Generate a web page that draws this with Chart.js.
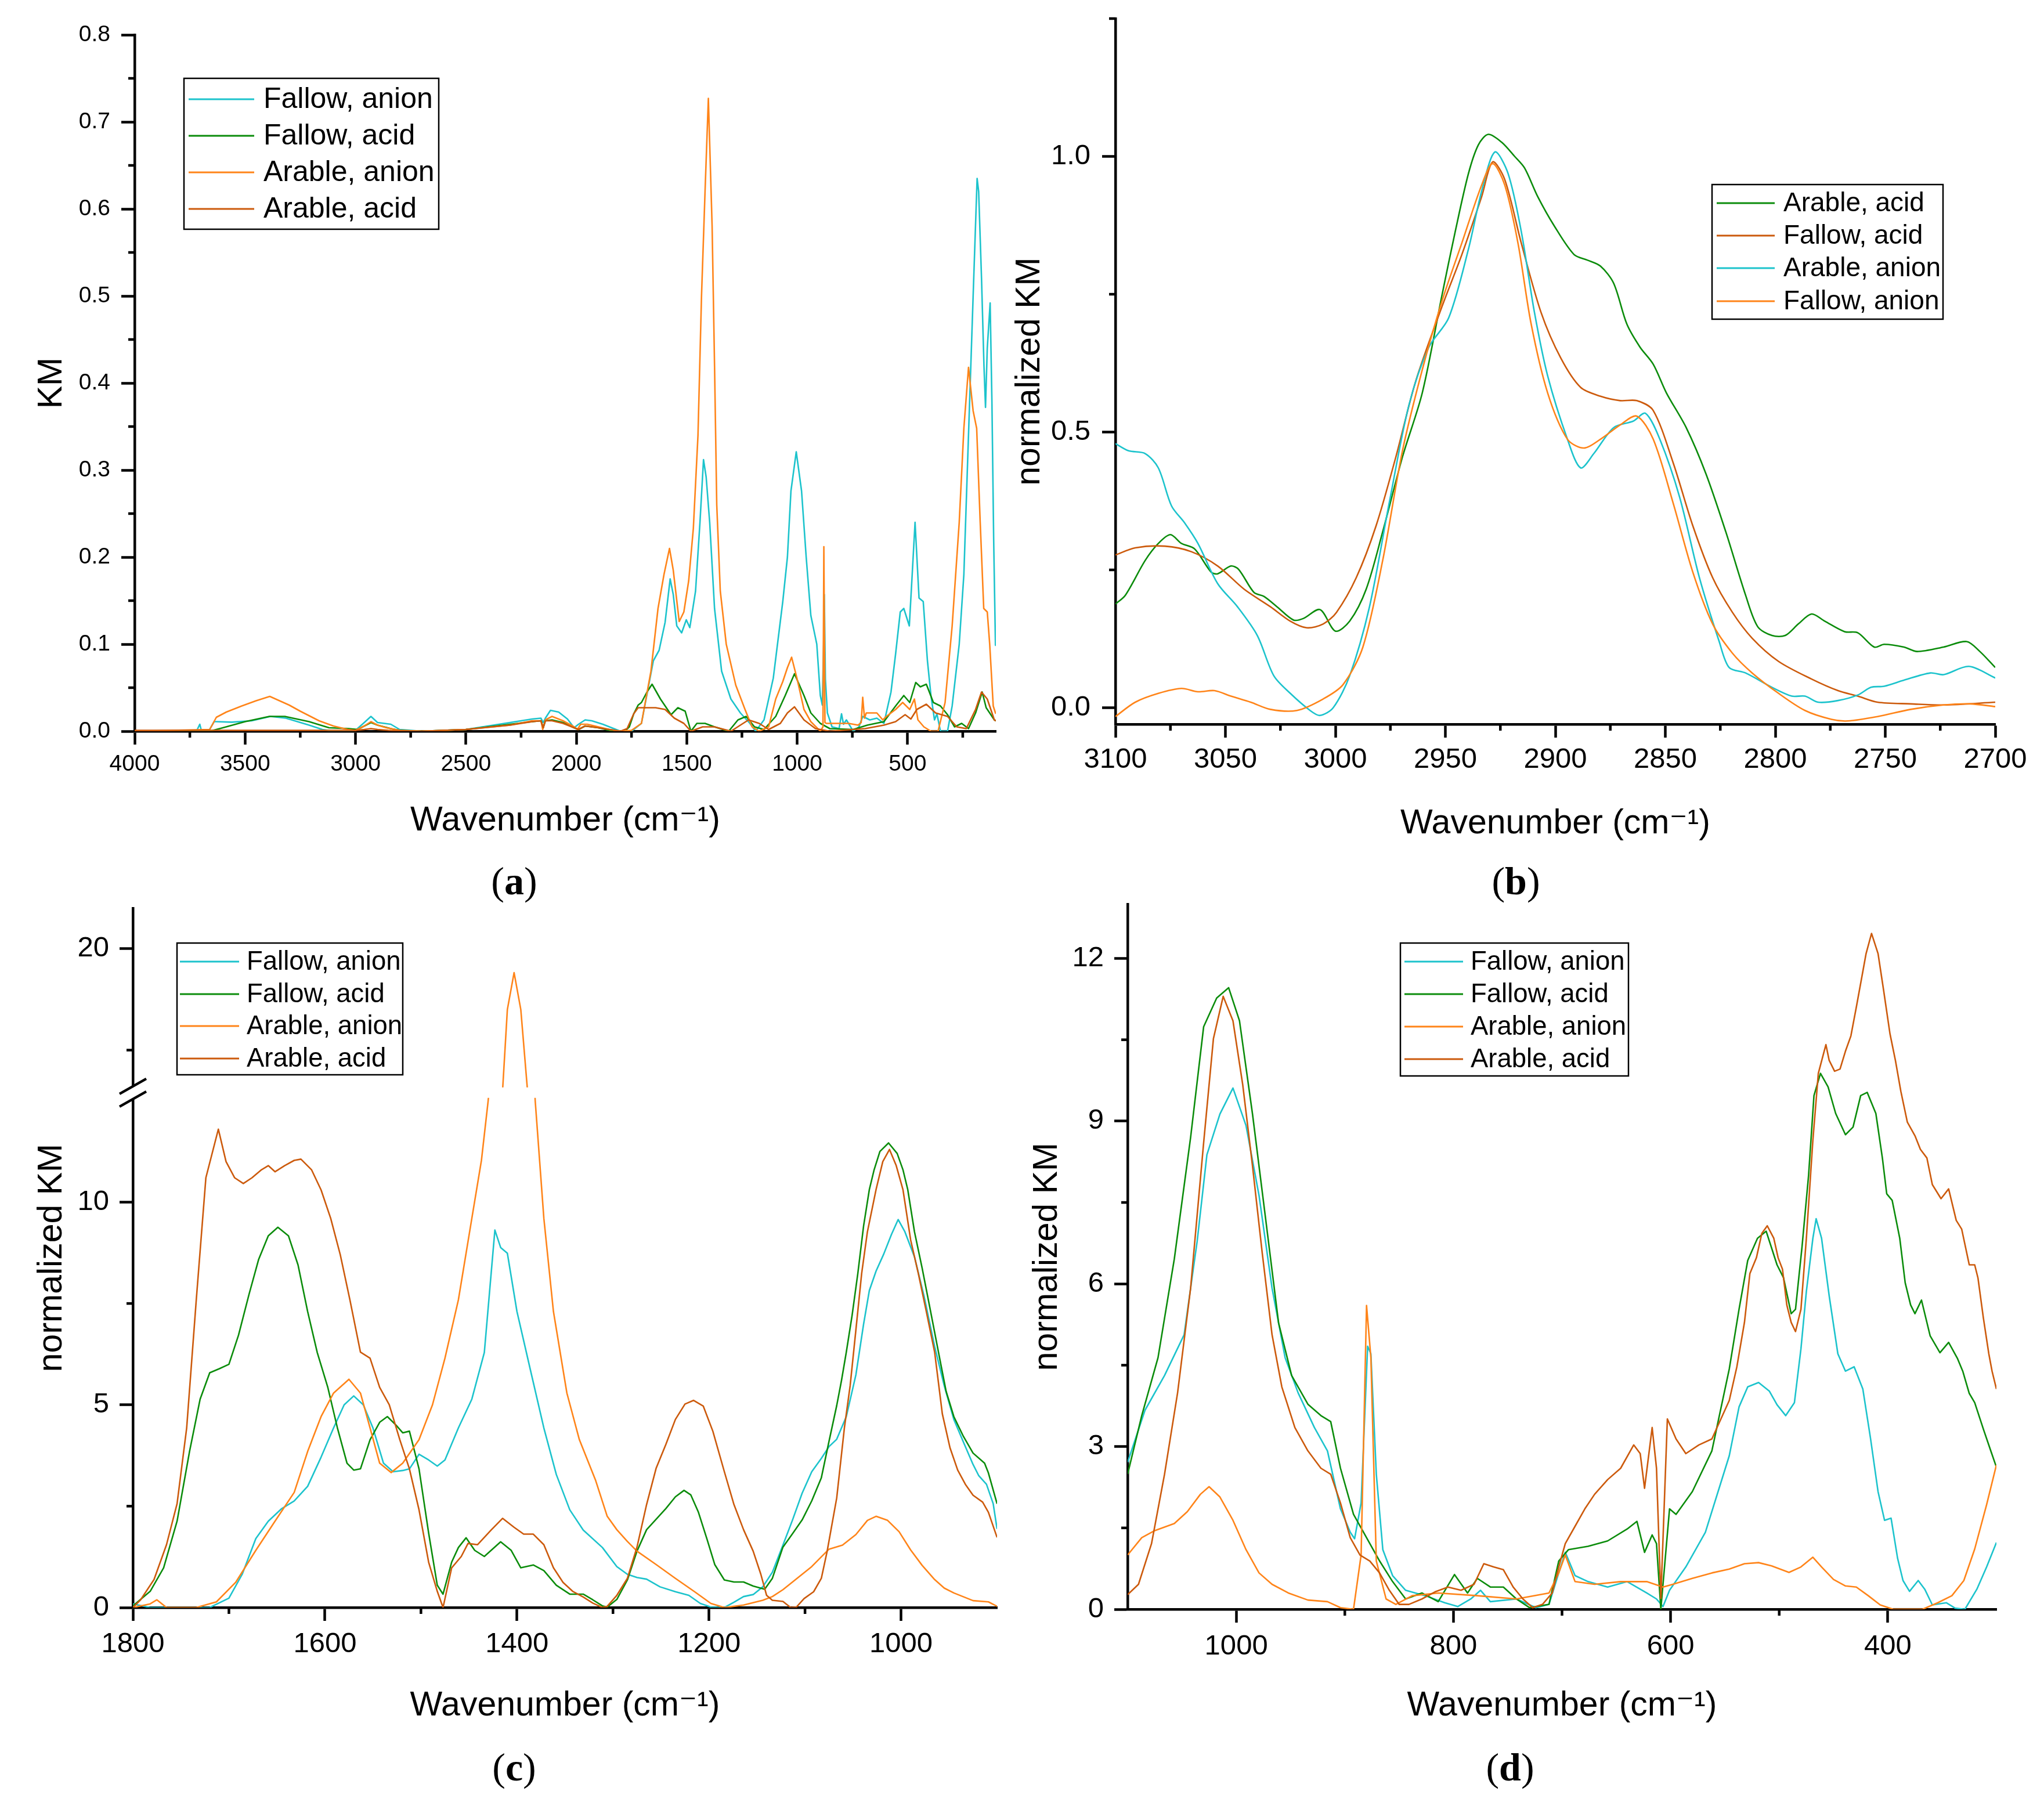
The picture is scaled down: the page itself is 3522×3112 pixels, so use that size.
<!DOCTYPE html>
<html><head><meta charset="utf-8"><title>KM spectra</title>
<script src="https://cdn.jsdelivr.net/npm/chart.js@4.4.1/dist/chart.umd.min.js"></script>
<style>
html,body{margin:0;padding:0;background:#fff;}
body{width:3522px;height:3112px;position:relative;overflow:hidden;}
canvas{position:absolute;}
.cap{position:absolute;width:200px;margin-left:-100px;text-align:center;font-family:"Liberation Serif","DejaVu Serif",serif;font-size:68px;line-height:68px;color:#000;}
</style></head><body>
<canvas id="ca"></canvas>
<canvas id="cb"></canvas>
<canvas id="cc"></canvas>
<canvas id="cd"></canvas>
<div class="cap" style="left:886px;top:1484px">(<b>a</b>)</div>
<div class="cap" style="left:2612px;top:1484px">(<b>b</b>)</div>
<div class="cap" style="left:886px;top:3011px">(<b>c</b>)</div>
<div class="cap" style="left:2602px;top:3011px">(<b>d</b>)</div>
<script>
// ---------------- DATA ----------------
// Panel (a): KM vs wavenumber
const aFallowAnionX = [4000,3720,3705,3698,3665,3640,3630,3560,3470,3385,3315,3210,3150,3100,3000,2960,2930,2900,2870,2840,2800,2700,2500,2400,2300,2200,2160,2150,2140,2117,2080,2040,2010,1990,1960,1930,1880,1830,1800,1750,1705,1651,1625,1598,1575,1561,1545,1523,1502,1486,1460,1440,1424,1412,1396,1374,1342,1300,1257,1214,1188,1150,1108,1065,1044,1028,1004,980,959,938,911,895,886,880,877,872,863,842,810,799,790,777,746,720,703,671,639,607,575,554,533,517,492,479,466,448,429,410,394,378,367,351,319,298,266,245,224,203,185,178,165,154,147,139,126,118,110,102,100];
const aFallowAnionY = [0,0,0.008,0.001,0,0.011,0.011,0.0104,0.012,0.017,0.015,0.007,0.002,0,0.001,0.01,0.017,0.01,0.009,0.008,0.002,0,0.002,0.006,0.01,0.014,0.015,0.01,0.015,0.024,0.022,0.014,0.004,0.008,0.013,0.012,0.008,0.003,0,0,0.009,0.081,0.093,0.125,0.175,0.157,0.121,0.113,0.128,0.119,0.161,0.24,0.312,0.292,0.24,0.141,0.069,0.037,0.021,0.009,0,0.013,0.061,0.149,0.2,0.276,0.321,0.276,0.2,0.133,0.1,0.041,0.03,0.1,0.157,0.06,0.021,0.005,0.003,0.02,0.008,0.013,0,0.005,0.017,0.013,0.015,0.009,0.045,0.089,0.137,0.141,0.121,0.18,0.24,0.153,0.149,0.081,0.041,0.013,0.02,0,0,0.029,0.1,0.18,0.34,0.5,0.635,0.62,0.52,0.42,0.372,0.44,0.492,0.38,0.22,0.099,0.098];
const aFallowAcidX = [4000,3660,3600,3500,3390,3320,3210,3120,3030,2990,2960,2930,2900,2870,2840,2800,2700,2500,2300,2200,2160,2150,2140,2110,2060,2010,1990,1960,1900,1850,1780,1760,1740,1720,1705,1680,1657,1619,1571,1540,1507,1481,1454,1417,1374,1310,1268,1231,1193,1150,1097,1054,1012,969,938,895,852,746,682,607,554,517,490,463,442,415,383,351,319,287,255,224,192,162,144,107,100];
const aFallowAcidY = [0,0,0.004,0.011,0.017,0.017,0.011,0.004,0.003,0.002,0.006,0.01,0.007,0.005,0.003,0.001,0,0.002,0.008,0.011,0.012,0.004,0.012,0.013,0.01,0.004,0.002,0.006,0.004,0.001,0,0.005,0.02,0.03,0.033,0.045,0.054,0.037,0.019,0.027,0.023,0,0.009,0.009,0.005,0,0.013,0.017,0.005,0.002,0.017,0.041,0.066,0.041,0.021,0.009,0.003,0.002,0.007,0.011,0.029,0.041,0.033,0.056,0.051,0.054,0.033,0.029,0.019,0.005,0.009,0.003,0.021,0.045,0.027,0.013,0.012];
const aArableAnionX = [4000,3660,3630,3585,3515,3450,3388,3300,3250,3165,3100,3035,3000,2960,2930,2900,2860,2800,2700,2500,2300,2200,2160,2152,2140,2110,2060,2010,1995,1980,1950,1900,1850,1800,1750,1705,1662,1630,1603,1578,1561,1534,1513,1491,1470,1449,1433,1417,1402,1385,1374,1364,1348,1321,1278,1236,1204,1172,1129,1097,1065,1044,1025,1001,969,938,895,883,879,874,868,831,767,724,710,703,695,687,639,612,596,554,522,490,469,453,426,394,362,330,298,266,245,224,203,187,171,155,139,128,112,102,100];
const aArableAnionY = [0,0.002,0.016,0.022,0.029,0.035,0.04,0.03,0.023,0.012,0.006,0.002,0.001,0.006,0.011,0.007,0.004,0.001,0,0.002,0.007,0.012,0.012,0.002,0.013,0.017,0.012,0.005,0.002,0.008,0.008,0.005,0.002,0,0.001,0.009,0.069,0.141,0.18,0.21,0.185,0.126,0.137,0.173,0.233,0.34,0.5,0.62,0.727,0.58,0.42,0.26,0.161,0.1,0.053,0.025,0.005,0,0.005,0.037,0.057,0.073,0.085,0.061,0.025,0.011,0,0.005,0.212,0.01,0.009,0.009,0.009,0.007,0.01,0.039,0.015,0.021,0.021,0.013,0.017,0.025,0.033,0.025,0.037,0.013,0.005,0,0,0.033,0.121,0.24,0.348,0.418,0.368,0.348,0.24,0.141,0.137,0.1,0.029,0.021,0.02];
const aArableAcidX = [4000,3000,2960,2930,2900,2850,2700,2500,2300,2200,2160,2150,2140,2110,2060,2010,1990,1960,1900,1800,1770,1740,1720,1705,1641,1598,1556,1513,1481,1428,1374,1300,1257,1220,1172,1129,1076,1044,1012,969,917,852,692,607,554,511,485,458,415,373,319,277,234,192,165,139,107,100];
const aArableAcidY = [0.001,0.001,0.002,0.003,0.002,0.001,0,0.002,0.007,0.011,0.012,0.004,0.012,0.012,0.009,0.004,0.002,0.006,0.004,0,0.003,0.02,0.027,0.027,0.027,0.025,0.015,0.009,0,0.005,0.005,0,0.007,0.013,0.009,0.002,0.009,0.021,0.028,0.013,0.003,0,0.003,0.007,0.011,0.019,0.014,0.025,0.031,0.021,0.017,0.005,0.003,0.025,0.045,0.037,0.013,0.012];
const aXTicks = [500,1000,1500,2000,2500,3000,3500,4000];
const aXMinor = [250,750,1250,1750,2250,2750,3250,3750];
const aYTicks = [0,0.1,0.2,0.3,0.4,0.5,0.6,0.7,0.8];
const aYMinor = [0.05,0.15,0.25,0.35,0.45,0.55,0.65,0.75];

// Panel (b): normalized KM, C-H stretching region
const bArableAcidX = [3100,3095.5,3086.5,3080.5,3075,3070,3064,3056.5,3053.5,3047.5,3044,3037,3032.5,3026.5,3019,3014.5,3007,3000,2993.5,2986,2978.5,2969.5,2960.5,2951.5,2945.5,2939.5,2935,2930.5,2924.5,2918.5,2914,2908,2900.5,2891.5,2885.5,2879.5,2873.5,2867.5,2861.5,2855.5,2849.5,2840.5,2831.5,2822.5,2813.5,2808,2801.5,2795.5,2789.5,2783.5,2777.5,2768.5,2762.5,2755,2750.5,2741.5,2735.5,2723.5,2713,2707,2700];
const bArableAcidY = [0.188,0.204,0.267,0.298,0.314,0.298,0.288,0.246,0.243,0.257,0.251,0.209,0.202,0.183,0.159,0.162,0.178,0.139,0.157,0.215,0.319,0.455,0.571,0.749,0.864,0.969,1.021,1.040,1.026,1.0,0.979,0.927,0.874,0.822,0.812,0.801,0.770,0.696,0.654,0.623,0.571,0.508,0.424,0.319,0.204,0.147,0.131,0.131,0.152,0.170,0.157,0.138,0.136,0.110,0.115,0.110,0.102,0.110,0.120,0.102,0.073];
const bFallowAcidX = [3100,3091,3077.5,3065.5,3053.5,3041.5,3029.5,3020.5,3013,3005.5,2999.5,2990.5,2981.5,2972.5,2963.5,2951.5,2942.5,2933.5,2928.5,2923,2915.5,2906.5,2897.5,2888.5,2879.5,2870.5,2863,2855.5,2846.5,2837.5,2828.5,2819.5,2810.5,2798.5,2783.5,2771.5,2762.5,2753.5,2738.5,2723.5,2700];
const bFallowAcidY = [0.277,0.290,0.293,0.283,0.257,0.215,0.183,0.157,0.145,0.152,0.173,0.236,0.330,0.455,0.592,0.728,0.822,0.927,0.990,0.958,0.843,0.717,0.634,0.581,0.565,0.557,0.557,0.539,0.445,0.330,0.236,0.173,0.126,0.084,0.052,0.031,0.021,0.010,0.007,0.005,0.010];
const bArableAnionX = [3100,3094,3086.5,3080.5,3074.5,3068.5,3062.5,3053.5,3044.5,3035.5,3028,3020.5,3011.5,3007,3001,2993.5,2984.5,2975.5,2966.5,2957.5,2948.5,2939.5,2933.5,2927.5,2921.5,2915.5,2909.5,2903.5,2894.5,2888.5,2882.5,2873.5,2864.5,2859,2852.5,2843.5,2834.5,2825.5,2821,2813.5,2801.5,2792.5,2786.5,2780.5,2771.5,2762.5,2756.5,2750.5,2741.5,2729.5,2723.5,2712,2700];
const bArableAnionY = [0.479,0.466,0.461,0.435,0.366,0.335,0.298,0.225,0.183,0.131,0.058,0.026,-0.005,-0.014,0,0.058,0.183,0.372,0.550,0.654,0.707,0.832,0.937,1.008,0.969,0.864,0.717,0.602,0.487,0.435,0.461,0.508,0.520,0.534,0.487,0.382,0.236,0.120,0.073,0.063,0.037,0.021,0.021,0.010,0.013,0.023,0.037,0.039,0.050,0.063,0.060,0.075,0.054];
const bFallowAnionX = [3100,3091,3080.5,3070,3062.5,3055,3047.5,3038.5,3029.5,3017.5,3005.5,2996.5,2987.5,2978.5,2969.5,2960.5,2951.5,2942.5,2933.5,2928.5,2923,2917,2911,2903.5,2894.5,2887,2879.5,2870.5,2863,2855.5,2846.5,2837.5,2828.5,2819.5,2810.5,2798.5,2786.5,2774.5,2767,2753.5,2738.5,2723.5,2711.5,2700];
const bFallowAnionY = [-0.016,0.010,0.026,0.035,0.029,0.031,0.021,0.010,-0.003,-0.005,0.016,0.042,0.110,0.267,0.466,0.613,0.738,0.843,0.948,0.987,0.948,0.843,0.696,0.571,0.487,0.471,0.487,0.513,0.529,0.487,0.372,0.246,0.152,0.099,0.063,0.026,-0.005,-0.021,-0.024,-0.016,-0.003,0.005,0.007,0.002];
const bXTicks = [2700,2750,2800,2850,2900,2950,3000,3050,3100];
const bXMinor = [2725,2775,2825,2875,2925,2975,3025,3075];
const bYTicks = [0,0.5,1.0];
const bYMinor = [0.25,0.75,1.25];

// Panel (c): normalized KM, 1800-900 cm-1 (broken y axis)
const cFallowAnionX = [1800,1782,1720,1700,1686,1672,1659,1645,1632,1618,1604,1591,1580,1570,1560,1550,1539,1529,1519,1512,1502,1492,1483,1475,1461,1447,1434,1423,1417,1410,1400,1386,1372,1359,1345,1331,1311,1296,1285,1275,1265,1251,1235,1221,1209,1198,1184,1174,1164,1154,1144,1134,1123,1113,1103,1093,1083,1075,1067,1057,1047,1039,1033,1026,1018,1010,1003,996,986,976,965,955,945,935,925,919,911,904,900];
const cFallowAnionY = [0.09,0,0,0.23,0.83,1.7,2.13,2.44,2.63,2.99,3.71,4.43,5.0,5.22,5.0,4.43,3.56,3.35,3.38,3.42,3.78,3.64,3.49,3.64,4.43,5.14,6.29,9.31,8.88,8.74,7.3,5.86,4.43,3.28,2.41,1.91,1.48,1.01,0.82,0.74,0.7,0.51,0.39,0.3,0.1,0.01,0,0.13,0.27,0.32,0.51,0.87,1.54,2.16,2.82,3.35,3.68,3.97,4.15,4.71,5.74,6.99,7.82,8.3,8.72,9.2,9.57,9.27,8.65,7.68,6.44,5.47,4.64,4.08,3.53,3.25,3.04,2.56,1.94];
const cFallowAcidX = [1800,1782,1768,1754,1741,1730,1720,1710,1700,1690,1679,1669,1659,1649,1638,1628,1618,1608,1597,1587,1577,1570,1563,1553,1543,1535,1526,1519,1512,1502,1492,1483,1477,1468,1461,1453,1444,1434,1417,1406,1396,1383,1372,1359,1345,1331,1321,1311,1306,1296,1285,1275,1265,1253,1245,1235,1226,1219,1211,1202,1194,1184,1174,1164,1154,1142,1134,1123,1113,1103,1093,1083,1075,1067,1062,1057,1051,1045,1039,1033,1028,1022,1013,1004,998,993,986,978,970,961,953,945,935,925,913,909,900];
const cFallowAcidY = [0.04,0.4,0.98,2.13,3.85,5.14,5.79,5.89,6.0,6.72,7.73,8.59,9.17,9.38,9.17,8.45,7.3,6.29,5.43,4.43,3.56,3.39,3.42,4.14,4.57,4.71,4.5,4.31,4.35,3.42,1.84,0.55,0.33,1.12,1.48,1.72,1.41,1.26,1.62,1.41,0.98,1.05,0.91,0.55,0.33,0.33,0.19,0.04,0.01,0.2,0.68,1.39,1.92,2.23,2.44,2.73,2.89,2.78,2.35,1.68,1.06,0.68,0.63,0.63,0.53,0.45,0.72,1.49,1.82,2.16,2.63,3.2,4.1,4.98,5.6,6.3,7.2,8.24,9.41,10.31,10.8,11.25,11.46,11.2,10.8,10.31,9.27,8.37,7.4,6.3,5.33,4.71,4.22,3.81,3.56,3.32,2.56];
const cArableAnionX = [1800,1782,1775,1765,1734,1713,1693,1672,1652,1632,1618,1604,1591,1575,1563,1553,1543,1531,1519,1502,1488,1475,1461,1447,1437,1430,1415,1410,1403,1396,1389,1381,1372,1362,1348,1335,1318,1306,1296,1285,1275,1255,1235,1215,1198,1184,1164,1144,1134,1123,1113,1103,1093,1083,1075,1061,1047,1035,1026,1014,1002,990,978,965,955,945,925,909,900];
const cArableAnionY = [0,0.09,0.19,0,0,0.14,0.62,1.41,2.13,2.84,3.85,4.71,5.29,5.63,5.29,4.43,3.56,3.33,3.56,4.14,5.0,6.15,7.59,9.6,11.03,12.5,16.5,18.5,19.41,18.5,16.5,12.5,9.6,7.3,5.29,4.14,3.13,2.25,1.92,1.63,1.39,1.06,0.72,0.39,0.1,0,0.06,0.18,0.27,0.44,0.63,0.82,1.01,1.25,1.44,1.54,1.8,2.15,2.25,2.15,1.87,1.42,1.04,0.69,0.48,0.36,0.17,0.14,0.03];
const cArableAcidX = [1800,1792,1778,1765,1754,1744,1734,1724,1711,1703,1694,1685,1676,1666,1659,1652,1642,1632,1625,1614,1604,1594,1584,1574,1563,1553,1543,1533,1522,1512,1502,1492,1483,1477,1468,1458,1451,1441,1427,1415,1403,1393,1383,1372,1362,1352,1342,1331,1321,1311,1306,1296,1285,1275,1265,1255,1245,1235,1225,1216,1206,1196,1184,1174,1164,1154,1146,1140,1134,1123,1115,1109,1101,1091,1083,1077,1067,1059,1053,1047,1041,1035,1026,1019,1012,1005,998,990,982,974,965,957,949,941,933,925,915,909,900];
const cArableAcidY = [0,0.19,0.69,1.55,2.56,4.43,7.59,10.6,11.8,11.0,10.6,10.46,10.6,10.8,10.9,10.75,10.9,11.03,11.06,10.8,10.3,9.6,8.7,7.59,6.3,6.15,5.43,5.0,4.14,3.42,2.41,1.12,0.4,0,0.98,1.26,1.58,1.55,1.91,2.2,1.98,1.81,1.81,1.55,0.98,0.62,0.4,0.26,0.11,0,0.03,0.3,0.72,1.49,2.54,3.44,4.02,4.64,5.02,5.11,4.97,4.35,3.35,2.54,1.92,1.39,0.82,0.3,0.18,0.15,0,0.01,0.22,0.39,0.72,1.38,2.7,4.43,5.47,6.85,8.24,9.27,10.31,11.0,11.3,10.9,10.31,9.07,8.24,7.34,6.3,4.78,3.94,3.39,3.04,2.77,2.6,2.35,1.73];
const cXTicks = [1000,1200,1400,1600,1800];
const cXMinor = [1100,1300,1500,1700];
const cYLowTicks = [0,5,10];
const cYLowMinor = [2.5,7.5];
const cYHighTicks = [20];
const cYHighMinor = [17.5];

// Panel (d): normalized KM, 1100-300 cm-1
const dFallowAnionX = [1100,1084,1066,1048,1036,1027,1015,1003,991,979,967,955,943,928,916,904,895,891,885,879,876,871,865,856,844,826,808,796,784,775,766,742,724,712,703,697,688,676,658,640,622,613,607,601,586,568,546,537,529,519,509,502,494,486,480,475,469,466,461,454,446,439,431,423,416,409,403,397,391,386,380,372,366,359,346,338,329,318,309,300];
const dFallowAnionY = [2.71,3.67,4.31,5.06,6.78,8.38,9.13,9.61,8.92,7.63,5.92,4.64,3.99,3.35,2.92,1.85,1.42,1.3,1.96,4.85,4.71,2.49,1.1,0.62,0.35,0.25,0.12,0.05,0.19,0.35,0.14,0.19,0.03,0.09,0.67,1.05,0.62,0.51,0.41,0.51,0.3,0.19,0.05,0.35,0.78,1.42,2.83,3.73,4.1,4.18,4.02,3.77,3.57,3.81,4.8,5.86,6.84,7.2,6.84,5.78,4.71,4.39,4.47,4.06,3.16,2.17,1.64,1.68,0.94,0.53,0.33,0.53,0.37,0.08,0.12,0.02,0,0.37,0.78,1.23];
const dFallowAcidX = [1100,1087,1072,1057,1042,1030,1018,1007,997,985,973,961,949,934,922,913,904,892,880,868,856,844,829,814,799,787,778,766,754,742,730,712,703,694,676,658,640,631,624,617,613,609,601,595,580,562,546,537,529,520,512,502,496,489,485,479,473,468,462,455,448,439,432,425,419,411,405,401,396,389,384,379,375,369,361,352,344,336,331,325,320,312,305,300];
const dFallowAcidY = [2.49,3.57,4.64,6.46,8.7,10.74,11.27,11.46,10.85,9.13,7.21,5.28,4.31,3.78,3.57,3.46,2.6,1.75,1.32,0.89,0.51,0.19,0.3,0.14,0.64,0.3,0.57,0.41,0.41,0.19,0.03,0.09,0.89,1.1,1.16,1.26,1.48,1.62,1.05,1.37,1.21,0,1.85,1.75,2.17,2.92,4.43,5.53,6.43,6.84,6.97,6.35,6.11,5.45,5.53,6.68,7.99,9.47,9.88,9.63,9.14,8.75,8.89,9.47,9.53,9.14,8.32,7.66,7.54,6.84,6.02,5.61,5.45,5.7,5.04,4.73,4.92,4.63,4.39,3.98,3.81,3.32,2.91,2.62];
const dArableAnionX = [1100,1087,1075,1057,1045,1033,1025,1015,1003,991,979,967,952,934,916,904,892,885,880,876,871,862,853,838,814,778,742,712,703,697,688,670,646,622,607,598,580,562,546,532,519,507,491,480,469,461,450,439,429,418,407,395,368,354,341,330,320,309,300];
const dArableAnionY = [1.0,1.32,1.45,1.58,1.8,2.12,2.26,2.07,1.64,1.1,0.67,0.46,0.3,0.17,0.14,0.03,0,1.0,5.6,4.64,0.89,0.19,0.09,0.25,0.3,0.25,0.19,0.3,0.67,1.0,0.51,0.46,0.51,0.51,0.41,0.46,0.57,0.67,0.74,0.84,0.86,0.8,0.68,0.78,0.96,0.78,0.55,0.43,0.41,0.25,0.08,0,0,0.12,0.25,0.53,1.11,1.93,2.66];
const dArableAcidX = [1100,1090,1078,1066,1054,1042,1030,1021,1012,1003,994,985,976,967,958,946,934,922,913,904,895,886,877,868,859,850,841,829,817,805,793,781,772,763,754,745,736,727,718,709,703,697,688,679,670,658,646,634,628,624,617,613,609,603,595,586,574,562,546,539,532,527,521,516,511,505,501,497,493,489,485,480,475,469,464,457,454,449,444,439,434,429,423,420,415,409,404,398,393,388,382,375,370,364,359,351,344,337,332,325,320,317,312,307,304,300];
const dArableAcidY = [0.27,0.46,1.21,2.49,3.99,5.92,8.6,10.52,11.3,10.85,9.67,8.17,6.56,5.06,4.1,3.35,2.92,2.6,2.49,1.96,1.32,1.0,0.89,0.67,0.35,0.09,0.09,0.19,0.32,0.41,0.35,0.46,0.84,0.78,0.73,0.41,0.19,0.03,0.09,0.3,0.78,1.21,1.53,1.85,2.12,2.39,2.6,3.03,2.87,2.23,3.35,2.6,0.2,3.51,3.14,2.87,3.03,3.14,3.85,4.47,5.29,6.19,6.48,6.93,7.07,6.84,6.48,6.27,5.61,5.29,5.12,5.53,6.84,8.65,9.88,10.41,10.12,9.92,9.96,10.29,10.57,11.1,11.76,12.09,12.46,12.09,11.43,10.61,10.12,9.55,8.98,8.73,8.48,8.32,7.83,7.57,7.75,7.17,7.01,6.35,6.35,6.11,5.37,4.71,4.39,4.06];
const dXTicks = [400,600,800,1000];
const dXMinor = [500,700,900];
const dYTicks = [0,3,6,9,12];
const dYMinor = [1.5,4.5,7.5,10.5];

// ---------------- STYLE ----------------
const FONT = "'Liberation Sans', Arial, 'DejaVu Sans', sans-serif";
const XTITLE = 'Wavenumber (cm\u207B\u00B9)';
const COL = {cyan:'#1CC3CC', green:'#0B8C0B', orange:'#FF8419', dark:'#CC5A0C'};

function series(label, xs, ys, color, axis, extra){
  const n = Math.min(xs.length, ys.length);
  const pts = [];
  for (let i = 0; i < n; i++) pts.push({x: xs[i], y: ys[i]});
  return Object.assign({label: label, data: pts, borderColor: color, backgroundColor: color,
    borderWidth: 2.6, pointRadius: 0, pointHoverRadius: 0, pointHitRadius: 0, fill: false, tension: 0,
    borderJoinStyle: 'round', yAxisID: axis || 'y'}, extra || {});
}

// ---------------- PLUGINS ----------------
const minorTicks = {
  id: 'minorTicks',
  afterDraw(chart, args, o){
    if (!o || !o.axes) return;
    const ctx = chart.ctx;
    ctx.save(); ctx.strokeStyle = '#000'; ctx.lineWidth = 4.5;
    for (const a of o.axes) {
      const s = chart.scales[a.id];
      if (!s) continue;
      for (const v of a.values) {
        const p = s.getPixelForValue(v);
        ctx.beginPath();
        if (s.isHorizontal()) { ctx.moveTo(p, s.top); ctx.lineTo(p, s.top + a.len); }
        else { ctx.moveTo(s.right, p); ctx.lineTo(s.right - a.len, p); }
        ctx.stroke();
      }
    }
    ctx.restore();
  }
};

const boxLegend = {
  id: 'boxLegend',
  afterDraw(chart, args, o){
    if (!o || !o.rows) return;
    const ctx = chart.ctx, ox = o.ox, oy = o.oy;
    ctx.save();
    ctx.fillStyle = '#fff';
    ctx.fillRect(o.x1 - ox, o.y1 - oy, o.x2 - o.x1, o.y2 - o.y1);
    ctx.strokeStyle = '#000'; ctx.lineWidth = 2.5;
    ctx.strokeRect(o.x1 - ox, o.y1 - oy, o.x2 - o.x1, o.y2 - o.y1);
    const items = chart.data.datasets.filter(d => !d.noLegend);
    ctx.font = o.size + 'px ' + FONT;
    ctx.textBaseline = 'middle'; ctx.textAlign = 'left';
    items.forEach((d, i) => {
      const y = o.rows[i] - oy;
      ctx.strokeStyle = d.borderColor; ctx.lineWidth = 2.8;
      ctx.beginPath(); ctx.moveTo(o.sx1 - ox, y); ctx.lineTo(o.sx2 - ox, y); ctx.stroke();
      ctx.fillStyle = '#000';
      ctx.fillText(d.label, o.tx - ox, y + 1);
    });
    ctx.restore();
  }
};

const yTitle = {
  id: 'yTitle',
  afterDraw(chart, args, o){
    if (!o || !o.text) return;
    const ctx = chart.ctx, ca = chart.chartArea;
    ctx.save();
    ctx.translate(o.x, (ca.top + ca.bottom) / 2);
    ctx.rotate(-Math.PI / 2);
    ctx.font = o.size + 'px ' + FONT; ctx.fillStyle = '#000';
    ctx.textAlign = 'center'; ctx.textBaseline = 'middle';
    ctx.fillText(o.text, 0, 0);
    ctx.restore();
  }
};

const axisBreak = {
  id: 'axisBreak',
  beforeDatasetDraw(chart, args){
    const s = args.meta.yScale, ca = chart.chartArea, g = 9;
    const top = s.id === 'yLow' ? s.top + g : s.top - 6;
    const bottom = s.id === 'yHigh' ? s.bottom - g : s.bottom + 6;
    chart.ctx.save();
    chart.ctx.beginPath();
    chart.ctx.rect(ca.left - 5, top, ca.right - ca.left + 10, bottom - top);
    chart.ctx.clip();
  },
  afterDatasetDraw(chart){ chart.ctx.restore(); },
  afterDraw(chart){
    const ctx = chart.ctx;
    const lo = chart.scales.yLow, hi = chart.scales.yHigh;
    const by = Math.min(lo.top, hi.bottom) + Math.abs(lo.top - hi.bottom) / 2;
    const ax = chart.chartArea.left;
    ctx.save();
    ctx.fillStyle = '#fff'; ctx.fillRect(ax - 4, by - 11, 8, 22);
    ctx.strokeStyle = '#000'; ctx.lineWidth = 4.5;
    for (const dy of [-11, 11]) {
      ctx.beginPath(); ctx.moveTo(ax - 23, by + dy + 13); ctx.lineTo(ax + 23, by + dy - 13); ctx.stroke();
    }
    ctx.restore();
  }
};

// ---------------- CHART BUILDER ----------------
function yScale(o, ax){
  return {
    type: 'linear', position: 'left', min: ax.min, max: ax.max,
    stack: ax.stack, stackWeight: ax.stackWeight, weight: ax.weight || 0,
    grid: {display: true, drawOnChartArea: false, drawTicks: true, tickLength: 23, tickWidth: 4.5, tickColor: '#000'},
    border: {display: true, color: '#000', width: 4.5},
    ticks: {autoSkip: false, padding: o.yPad, color: '#000', font: {size: o.tickSize, family: FONT},
            callback: (v) => Number(v).toFixed(ax.dec || 0)},
    afterBuildTicks: (s) => { s.ticks = ax.ticks.map(v => ({value: v})); },
    afterFit: (s) => { s.width = o.area[0] - o.canvas[0]; },
    title: ax.title ? {display: true, text: ax.title, color: '#000', font: {size: 59, family: FONT},
                       padding: {top: (o.yTitleX - o.canvas[0]) - 35.4, bottom: 0}} : {display: false}
  };
}
function xScale(o){
  const ch = o.canvas[3], ct = o.canvas[1];
  return {
    type: 'linear', position: 'bottom', min: o.xMin, max: o.xMax, reverse: true,
    grid: {display: true, drawOnChartArea: false, drawTicks: true, tickLength: 23, tickWidth: 4.5, tickColor: '#000'},
    border: {display: true, color: '#000', width: 4.5},
    ticks: {autoSkip: false, maxRotation: 0, minRotation: 0, padding: o.xPad, color: '#000',
            font: {size: o.tickSize, family: FONT}, callback: (v) => String(v)},
    afterBuildTicks: (s) => { s.ticks = o.xTicks.map(v => ({value: v})); },
    afterFit: (s) => { s.height = (ct + ch) - o.area[3]; },
    title: {display: true, text: XTITLE, color: '#000', font: {size: 59, family: FONT},
            padding: {top: 0, bottom: (ct + ch - o.xTitleY) - 35.4}}
  };
}
function makePanel(id, o){
  const cv = document.getElementById(id);
  const [cl, ct, cw, ch] = o.canvas;
  cv.width = cw; cv.height = ch;
  cv.style.left = cl + 'px'; cv.style.top = ct + 'px';
  cv.style.width = cw + 'px'; cv.style.height = ch + 'px';
  const scales = {x: xScale(o)};
  o.yAxes.forEach(ax => { scales[ax.id] = yScale(o, ax); });
  const n = o.datasets.length;
  o.datasets.forEach((d, i) => { if (d.order === undefined) d.order = n - 1 - i; });
  const lg = Object.assign({ox: cl, oy: ct}, o.legend);
  const chart = new Chart(cv, {
    type: 'line',
    data: {datasets: o.datasets},
    options: {
      responsive: false, maintainAspectRatio: false, devicePixelRatio: 1, animation: false, events: [],
      layout: {padding: {left: 0, top: o.area[1] - ct, right: cl + cw - o.area[2], bottom: 0}},
      plugins: {legend: {display: false}, tooltip: {enabled: false},
                minorTicks: {axes: o.minor}, boxLegend: lg, yTitle: o.yTitle || {}},
      scales: scales
    },
    plugins: [minorTicks, boxLegend, yTitle].concat(o.extraPlugins || [])
  });
  return chart;
}

// ---------------- PANELS ----------------
makePanel('ca', {
  canvas: [0, 0, 1790, 1480], area: [232, 60, 1716, 1260],
  tickSize: 39, yPad: 19, xPad: 11, yTitleX: 90, xTitleY: 1415,
  xMin: 100, xMax: 4000, xTicks: aXTicks,
  yAxes: [{id: 'y', min: 0, max: 0.8, ticks: aYTicks, dec: 1, title: 'KM'}],
  minor: [{id: 'x', values: aXMinor, len: 11}, {id: 'y', values: aYMinor, len: 11}],
  legend: {x1: 317, y1: 135, x2: 756, y2: 395, rows: [171, 234, 297, 360], sx1: 325, sx2: 438, tx: 454, size: 50},
  datasets: [
    series('Fallow, anion', aFallowAnionX, aFallowAnionY, COL.cyan),
    series('Fallow, acid', aFallowAcidX, aFallowAcidY, COL.green),
    series('Arable, anion', aArableAnionX, aArableAnionY, COL.orange),
    series('Arable, acid', aArableAcidX, aArableAcidY, COL.dark)
  ]
});

makePanel('cb', {
  canvas: [1700, -30, 1822, 1500], area: [1922, 32, 3438, 1248],
  tickSize: 49, yPad: 20, xPad: 9, yTitleX: 1775, xTitleY: 1420,
  xMin: 2700, xMax: 3100, xTicks: bXTicks,
  yAxes: [{id: 'y', min: -0.03, max: 1.25, ticks: bYTicks, dec: 1, title: 'normalized KM'}],
  minor: [{id: 'x', values: bXMinor, len: 11}, {id: 'y', values: bYMinor, len: 11}],
  legend: {x1: 2950, y1: 318, x2: 3348, y2: 550, rows: [350, 406, 462, 519], sx1: 2958, sx2: 3058, tx: 3073, size: 46},
  datasets: [
    series('Arable, acid', bArableAcidX, bArableAcidY, COL.green, 'y', {tension: 0.3}),
    series('Fallow, acid', bFallowAcidX, bFallowAcidY, COL.dark, 'y', {tension: 0.3}),
    series('Arable, anion', bArableAnionX, bArableAnionY, COL.cyan, 'y', {tension: 0.3}),
    series('Fallow, anion', bFallowAnionX, bFallowAnionY, COL.orange, 'y', {tension: 0.3})
  ]
});

const chC = makePanel('cc', {
  canvas: [0, 1500, 1790, 1500], area: [229, 1565, 1718, 2770],
  tickSize: 49, yPad: 18, xPad: 11, yTitleX: 90, xTitleY: 2940,
  xMin: 900, xMax: 1800, xTicks: cXTicks,
  yAxes: [
    {id: 'yLow', min: 0, max: 12.7, ticks: cYLowTicks, stack: 'ys', stackWeight: 12.7, weight: 0},
    {id: 'yHigh', min: 16.45, max: 21.0, ticks: cYHighTicks, stack: 'ys', stackWeight: 4.55, weight: 1}
  ],
  minor: [{id: 'x', values: cXMinor, len: 11}, {id: 'yLow', values: cYLowMinor, len: 11}, {id: 'yHigh', values: cYHighMinor, len: 11}],
  yTitle: {text: 'normalized KM', x: 90, size: 59},
  legend: {x1: 305, y1: 1625, x2: 694, y2: 1852, rows: [1657, 1713, 1768, 1824], sx1: 310, sx2: 412, tx: 425, size: 45.5},
  datasets: [
    series('Fallow, anion', cFallowAnionX, cFallowAnionY, COL.cyan, 'yLow', {order: 4}),
    series('Fallow, acid', cFallowAcidX, cFallowAcidY, COL.green, 'yLow', {order: 3}),
    series('Arable, anion', cArableAnionX, cArableAnionY, COL.orange, 'yLow', {order: 2}),
    series('Arable, acid', cArableAcidX, cArableAcidY, COL.dark, 'yLow', {order: 0}),
    series('Arable, anion', cArableAnionX, cArableAnionY, COL.orange, 'yHigh', {order: 1, noLegend: true})
  ],
  extraPlugins: [axisBreak]
});
if (chC.scales.yHigh.top > chC.scales.yLow.top) {
  chC.options.scales.yHigh.weight = 0;
  chC.options.scales.yLow.weight = 1;
  chC.update();
}

makePanel('cd', {
  canvas: [1700, 1500, 1822, 1500], area: [1943, 1558, 3440, 2773],
  tickSize: 49, yPad: 18, xPad: 12, yTitleX: 1805, xTitleY: 2940,
  xMin: 300, xMax: 1100, xTicks: dXTicks,
  yAxes: [{id: 'y', min: 0, max: 13, ticks: dYTicks, dec: 0, title: 'normalized KM'}],
  minor: [{id: 'x', values: dXMinor, len: 11}, {id: 'y', values: dYMinor, len: 11}],
  legend: {x1: 2413, y1: 1625, x2: 2806, y2: 1854, rows: [1657, 1713, 1769, 1825], sx1: 2420, sx2: 2521, tx: 2534, size: 45.5},
  datasets: [
    series('Fallow, anion', dFallowAnionX, dFallowAnionY, COL.cyan),
    series('Fallow, acid', dFallowAcidX, dFallowAcidY, COL.green),
    series('Arable, anion', dArableAnionX, dArableAnionY, COL.orange),
    series('Arable, acid', dArableAcidX, dArableAcidY, COL.dark)
  ]
});
</script>
</body></html>
